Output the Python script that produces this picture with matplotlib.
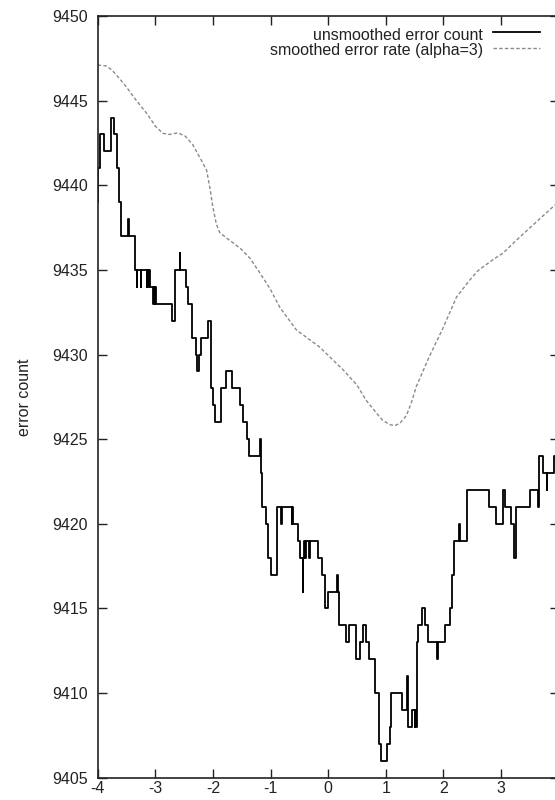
import matplotlib
matplotlib.use("Agg")
import matplotlib.pyplot as plt
from matplotlib.lines import Line2D

# ---- data -------------------------------------------------------------
# unsmoothed error count: level changes (x where the new level starts, level)
step_x = [-4.00, -3.99, -3.96, -3.885, -3.775, -3.71, -3.67, -3.63, -3.60,
          -3.48, -3.45, -3.35, -3.325, -3.315, -3.255, -3.245, -3.15, -3.14,
          -3.12, -3.11, -3.09, -3.04, -3.03, -3.01, -3.00, -2.98, -2.715,
          -2.665, -2.575, -2.565, -2.47, -2.44, -2.37, -2.29, -2.275, -2.245,
          -2.20, -2.08, -2.035, -2.00, -1.965, -1.86, -1.77, -1.67, -1.535,
          -1.47, -1.40, -1.37, -1.175, -1.165, -1.14, -1.08, -1.04, -0.995,
          -0.89, -0.815, -0.80, -0.635, -0.625, -0.615, -0.52, -0.49, -0.44,
          -0.43, -0.41, -0.40, -0.38, -0.33, -0.32, -0.18, -0.105, -0.055,
          0.00, 0.155, 0.165, 0.19, 0.305, 0.36, 0.485, 0.555, 0.60, 0.66,
          0.715, 0.815, 0.89, 0.92, 1.02, 1.075, 1.10, 1.29, 1.375, 1.385,
          1.455, 1.50, 1.51, 1.53, 1.55, 1.565, 1.625, 1.68, 1.73, 1.885,
          1.91, 2.03, 2.115, 2.145, 2.19, 2.28, 2.29, 2.41, 2.80, 2.915,
          3.04, 3.045, 3.07, 3.17, 3.23, 3.265, 3.505, 3.65, 3.66, 3.73,
          3.795, 3.805, 3.92, 4.00]
step_y = [9439, 9441, 9443, 9442, 9444, 9443, 9441, 9439, 9437,
          9438, 9437, 9435, 9434, 9435, 9434, 9435, 9434, 9435,
          9434, 9435, 9434, 9433, 9434, 9433, 9434, 9433, 9432,
          9435, 9436, 9435, 9434, 9433, 9431, 9430, 9429, 9430,
          9431, 9432, 9428, 9427, 9426, 9428, 9429, 9428, 9427,
          9426, 9425, 9424, 9425, 9423, 9421, 9420, 9418, 9417,
          9421, 9420, 9421, 9420, 9421, 9420, 9419, 9418, 9416,
          9418, 9419, 9418, 9419, 9418, 9419, 9418, 9417, 9415,
          9416, 9417, 9416, 9414, 9413, 9414, 9412, 9413, 9414, 9413,
          9412, 9410, 9407, 9406, 9407, 9408, 9410, 9409, 9411, 9408,
          9409, 9408, 9409, 9408, 9413, 9414, 9415, 9414, 9413, 9412,
          9413, 9414, 9415, 9417, 9419, 9420, 9419, 9422, 9421, 9420,
          9421, 9422, 9421, 9420, 9418, 9421, 9422, 9421, 9424, 9423,
          9422, 9423, 9424, 9424]

# smoothed error rate (alpha=3)
smooth_x = [-4.00, -3.85, -3.75, -3.62, -3.50, -3.35, -3.15, -3.00, -2.87,
            -2.75, -2.61, -2.48, -2.35, -2.22, -2.11, -2.05, -2.00, -1.94,
            -1.88, -1.75, -1.65, -1.50, -1.36, -1.20, -1.01, -0.84, -0.55,
            -0.15, 0.26, 0.50, 0.66, 0.85, 0.95, 1.08, 1.16, 1.25, 1.36,
            1.45, 1.53, 1.76, 2.00, 2.23, 2.46, 2.60, 2.86, 3.04, 3.30,
            3.62, 3.96]
smooth_y = [9447.1, 9447.05, 9446.8, 9446.3, 9445.8, 9445.1, 9444.25, 9443.5,
            9443.07, 9443.0, 9443.1, 9442.9, 9442.4, 9441.6, 9440.9, 9439.8,
            9438.7, 9437.7, 9437.2, 9436.85, 9436.6, 9436.2, 9435.7, 9434.9,
            9433.9, 9432.8, 9431.45, 9430.45, 9429.1, 9428.2, 9427.3, 9426.5,
            9426.1, 9425.85, 9425.8, 9425.95, 9426.4, 9427.2, 9428.1, 9429.9,
            9431.6, 9433.4, 9434.4, 9434.95, 9435.6, 9436.0, 9436.85, 9437.85,
            9438.9]

x_ticks = [-4, -3, -2, -1, 0, 1, 2, 3]
y_ticks = [9405, 9410, 9415, 9420, 9425, 9430, 9435, 9440, 9445, 9450]

label_raw = "unsmoothed error count"
label_smooth = "smoothed error rate (alpha=3)"
y_label = "error count"

# ---- style ------------------------------------------------------------
plt.rcParams["font.family"] = ["Liberation Sans", "DejaVu Sans"]
plt.rcParams["axes.unicode_minus"] = False
FS = 11.5
INK = "#222222"
GREY = "#8a8a8a"
DASH = (0, (2.5, 1.6))

fig = plt.figure(figsize=(5.55, 8.0), dpi=100)
W, H = 555.0, 800.0
ax = fig.add_axes([97.7 / W, 22.3 / H, 460.8 / W, 761.7 / H])

ax.step(step_x, step_y, where="post", color="black", lw=1.3)
ax.plot(smooth_x, smooth_y, color=GREY, lw=1.0, ls=DASH)

ax.set_xlim(-4, 4)
ax.set_ylim(9405, 9450)
ax.set_xticks(x_ticks)
ax.set_yticks(y_ticks)
ax.tick_params(direction="in", length=6.5, width=1.0, top=True, right=True,
               labelsize=FS, color=INK, labelcolor=INK)
ax.tick_params(axis="y", pad=7)
ax.tick_params(axis="x", pad=2.5)
for sp in ax.spines.values():
    sp.set_linewidth(1.2)
    sp.set_color(INK)

ax.set_ylabel(y_label, fontsize=FS, color=INK)
ax.yaxis.set_label_coords(-0.143, 0.5)

# key in the top-right corner: text right-aligned, sample line after it
fig.text(483 / W, 1 - 39.5 / H, label_raw, ha="right", va="baseline",
         fontsize=FS, color=INK)
fig.text(483 / W, 1 - 55.0 / H, label_smooth, ha="right", va="baseline",
         fontsize=FS, color=INK)
fig.add_artist(Line2D([493 / W, 540 / W], [1 - 32.3 / H, 1 - 32.3 / H],
                      transform=fig.transFigure, color="black", lw=1.3))
fig.add_artist(Line2D([493 / W, 540 / W], [1 - 48.3 / H, 1 - 48.3 / H],
                      transform=fig.transFigure, color=GREY, lw=1.0, ls=DASH))

fig.savefig("out.png", dpi=100)
